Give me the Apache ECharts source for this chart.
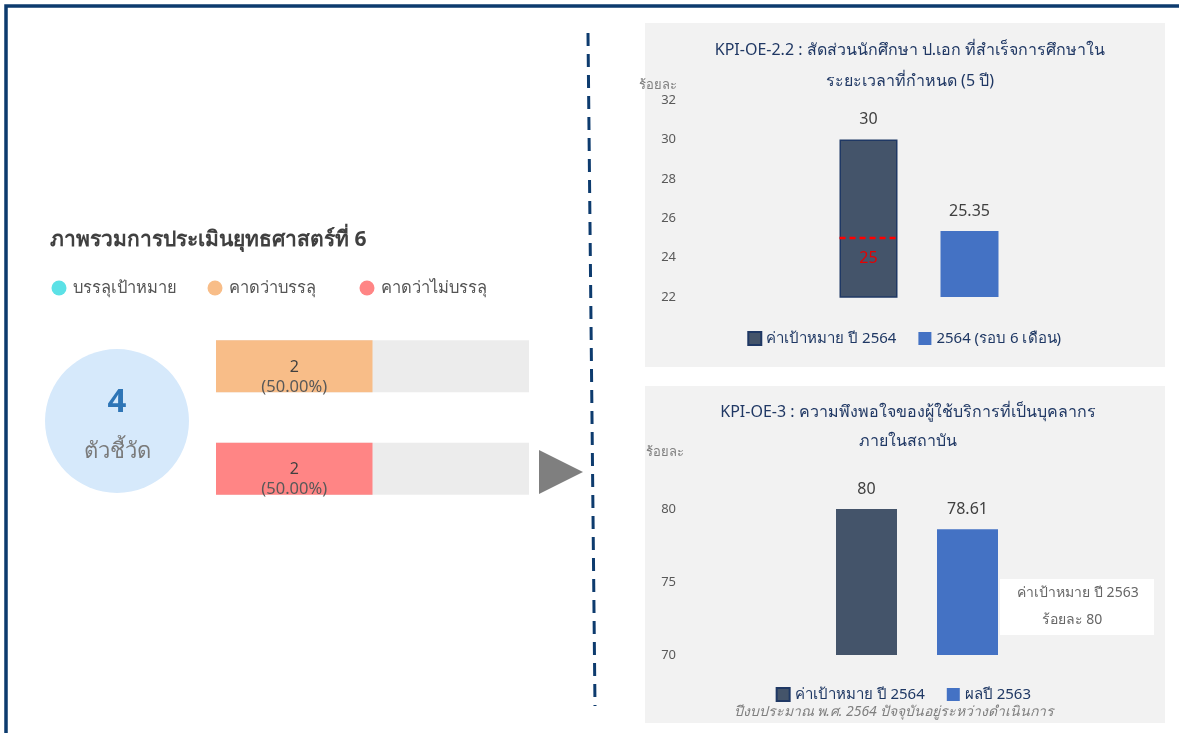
<!DOCTYPE html>
<html>
<head>
<meta charset="utf-8">
<script src="https://cdn.jsdelivr.net/npm/echarts@6/dist/echarts.min.js"></script>
<style>
  html, body { margin: 0; padding: 0; background: #fff; }
  #main { width: 1179px; height: 733px; }
</style>
</head>
<body>
<div id="main"></div>
<script>
// ภาพรวม
const statusNames = ['บรรลุเป้าหมาย', 'คาดว่าบรรลุ', 'คาดว่าไม่บรรลุ']
const statusCounts = [0, 2, 2]
const statusColors = ['#5ce1e6', '#f8bd88', '#ff8585']

// KPI-OE-2.2
const kpi1Categories = ['ค่าเป้าหมาย ปี 2564', '2564 (รอบ 6 เดือน)']
const kpi1Values = [30, 25.35]
const kpi1Threshold = [25]
const kpi1Axis = [22, 32, 2] // min, max, interval

// KPI-OE-3
const kpi2Categories = ['ค่าเป้าหมาย ปี 2564', 'ผลปี 2563']
const kpi2Values = [80, 78.61]
const kpi2Axis = [70, 80, 5]

const FONT = "'Noto Sans', 'DejaVu Sans', sans-serif"
const total = statusCounts.reduce((a, b) => a + b, 0)
const shown = statusNames.map((n, i) => ({ name: n, value: statusCounts[i], color: statusColors[i] }))
  .filter(d => d.value > 0)

const darkColor = '#44546a'
const blueColor = '#4472c4'

const myChart = echarts.init(document.getElementById('main'))

// one series per category so each bar can sit on its own band and still get a legend entry
function kpiSeries(cats, vals, axisIdx) {
  return cats.map((c, i) => ({
    name: c,
    type: 'bar',
    xAxisIndex: axisIdx,
    yAxisIndex: axisIdx,
    barWidth: axisIdx === 1 ? 58 : 61,
    barGap: '-100%',
    data: cats.map((_, j) => j === i ? vals[i] : '-'),
    itemStyle: i === 0
      ? { color: darkColor, borderColor: '#1f3864', borderWidth: axisIdx === 1 ? 1.5 : 0 }
      : { color: blueColor },
    label: {
      show: true,
      position: 'top',
      distance: 12,
      color: '#404040',
      fontSize: 16,
      fontFamily: FONT
    }
  }))
}

function kpiLegend(cats, top) {
  return {
    data: cats,
    top: top,
    itemWidth: 13,
    itemHeight: 13,
    itemGap: 22,
    textStyle: { color: '#1f3864', fontSize: 15, fontFamily: FONT },
    icon: 'rect'
  }
}

const legendGraphics = []
const legendX = [59, 215, 367]
statusNames.forEach((n, i) => {
  legendGraphics.push({ type: 'circle', shape: { cx: legendX[i], cy: 288, r: 7.5 }, style: { fill: statusColors[i] } })
  legendGraphics.push({
    type: 'text', x: legendX[i] + 14, y: 288,
    style: { text: n, fill: '#555', font: '16.5px ' + FONT, verticalAlign: 'middle' }
  })
})

const option = {
  animation: false,
  title: [
    {
      text: 'KPI-OE-2.2 : สัดส่วนนักศึกษา ป.เอก ที่สำเร็จการศึกษาใน\nระยะเวลาที่กำหนด (5 ปี)',
      left: 905, top: 30, textAlign: 'center',
      textStyle: { color: '#203864', fontSize: 16, fontWeight: 'normal', lineHeight: 31, fontFamily: FONT }
    },
    {
      text: 'KPI-OE-3 : ความพึงพอใจของผู้ใช้บริการที่เป็นบุคลากร\nภายในสถาบัน',
      left: 903, top: 393, textAlign: 'center',
      textStyle: { color: '#203864', fontSize: 16, fontWeight: 'normal', lineHeight: 29, fontFamily: FONT }
    }
  ],
  legend: [
    Object.assign(kpiLegend(kpi1Categories, 326), { right: 113 }),
    Object.assign(kpiLegend(kpi2Categories, 682), { right: 143 })
  ],
  grid: [
    { left: 216, width: 313, top: 315, height: 205 },
    { left: 818, width: 202, top: 100, height: 197 },
    { left: 816, width: 202, top: 509, height: 146 }
  ],
  xAxis: [
    { type: 'value', gridIndex: 0, min: 0, max: total, show: false },
    { type: 'category', gridIndex: 1, data: kpi1Categories, show: false },
    { type: 'category', gridIndex: 2, data: kpi2Categories, show: false }
  ],
  yAxis: [
    { type: 'category', gridIndex: 0, data: shown.map(d => d.name), inverse: true, show: false },
    {
      type: 'value', gridIndex: 1, min: kpi1Axis[0], max: kpi1Axis[1], interval: kpi1Axis[2],
      offset: 134,
      name: 'ร้อยละ', nameGap: 8,
      nameTextStyle: { color: '#7f7f7f', fontSize: 13, fontFamily: FONT, align: 'center', padding: [0, 0, 0, -52] },
      axisLine: { show: false }, axisTick: { show: false }, splitLine: { show: false },
      axisLabel: { color: '#595959', fontSize: 13, fontFamily: FONT }
    },
    {
      type: 'value', gridIndex: 2, min: kpi2Axis[0], max: kpi2Axis[1], interval: kpi2Axis[2],
      offset: 132,
      name: 'ร้อยละ', nameGap: 50,
      nameTextStyle: { color: '#7f7f7f', fontSize: 13, fontFamily: FONT, align: 'center', padding: [0, 0, 0, -38] },
      axisLine: { show: false }, axisTick: { show: false }, splitLine: { show: false },
      axisLabel: { color: '#595959', fontSize: 13, fontFamily: FONT }
    }
  ],
  series: [
    {
      type: 'bar',
      xAxisIndex: 0,
      yAxisIndex: 0,
      barWidth: 52,
      showBackground: true,
      backgroundStyle: { color: '#ececec' },
      data: shown.map(d => ({ value: d.value, itemStyle: { color: d.color } })),
      label: {
        show: true,
        position: 'inside',
        offset: [0, 11],
        formatter: p => '{a|' + p.value + '}\n{b|(' + (p.value / total * 100).toFixed(2) + '%)}',
        rich: {
          a: { fontSize: 16, color: '#404040', lineHeight: 20, fontFamily: FONT },
          b: { fontSize: 16.5, color: '#595959', lineHeight: 20, fontFamily: FONT }
        }
      }
    },
    ...kpiSeries(kpi1Categories, kpi1Values, 1),
    ...kpiSeries(kpi2Categories, kpi2Values, 2),
    {
      // เส้นเกณฑ์ 25 บนแท่งค่าเป้าหมาย
      type: 'custom',
      xAxisIndex: 1,
      yAxisIndex: 1,
      z: 5,
      data: kpi1Threshold.map(v => [0, v]),
      renderItem: (params, api) => {
        const p = api.coord([api.value(0), api.value(1)])
        return {
          type: 'group',
          children: [
            {
              type: 'line',
              shape: { x1: p[0] - 29, y1: p[1], x2: p[0] + 29, y2: p[1] },
              style: { stroke: '#ff0000', lineWidth: 2.5, lineDash: [6, 4] }
            },
            {
              type: 'text', x: p[0], y: p[1] + 21,
              style: { text: String(api.value(1)), fill: '#e60000', font: '16px ' + FONT, align: 'center', verticalAlign: 'middle' }
            }
          ]
        }
      }
    }
  ],
  graphic: [
    { type: 'rect', z: -10, shape: { x: 6, y: 6, width: 1300, height: 900 }, style: { fill: 'none', stroke: '#0d3b6e', lineWidth: 3.5 } },
    { type: 'rect', z: -10, shape: { x: 645, y: 23, width: 520, height: 344 }, style: { fill: '#f2f2f2' } },
    { type: 'rect', z: -10, shape: { x: 645, y: 386, width: 520, height: 337 }, style: { fill: '#f2f2f2' } },
    { type: 'line', shape: { x1: 588, y1: 33, x2: 595, y2: 706 }, style: { stroke: '#0d3b6e', lineWidth: 3, lineDash: [13, 8] } },
    {
      type: 'text', x: 50, y: 240,
      style: { text: 'ภาพรวมการประเมินยุทธศาสตร์ที่ 6', fill: '#404040', font: 'bold 21px ' + FONT, verticalAlign: 'middle' }
    },
    ...legendGraphics,
    { type: 'circle', shape: { cx: 117, cy: 421, r: 72 }, style: { fill: '#d6e9fb' } },
    {
      type: 'text', x: 117, y: 403,
      style: { text: String(total), fill: '#2e75b6', font: 'bold 33px ' + FONT, align: 'center', verticalAlign: 'middle' }
    },
    {
      type: 'text', x: 117, y: 452,
      style: { text: 'ตัวชี้วัด', fill: '#7a7a7a', font: '22px ' + FONT, align: 'center', verticalAlign: 'middle' }
    },
    { type: 'polygon', shape: { points: [[539, 450], [583, 472], [539, 494]] }, style: { fill: '#7f7f7f' } },
    { type: 'rect', shape: { x: 1000, y: 579, width: 154, height: 56 }, style: { fill: '#ffffff' } },
    {
      type: 'text', x: 1078, y: 593,
      style: { text: 'ค่าเป้าหมาย ปี 2563', fill: '#666', font: '14px ' + FONT, align: 'center', verticalAlign: 'middle' }
    },
    {
      type: 'text', x: 1072, y: 620,
      style: { text: 'ร้อยละ 80', fill: '#666', font: '14px ' + FONT, align: 'center', verticalAlign: 'middle' }
    },
    {
      type: 'text', x: 894, y: 712,
      style: { text: 'ปีงบประมาณ พ.ศ. 2564 ปัจจุบันอยู่ระหว่างดำเนินการ', fill: '#7f7f7f', font: 'italic 14px ' + FONT, align: 'center', verticalAlign: 'middle' }
    }
  ]
}

option && myChart.setOption(option)
</script>
</body>
</html>
